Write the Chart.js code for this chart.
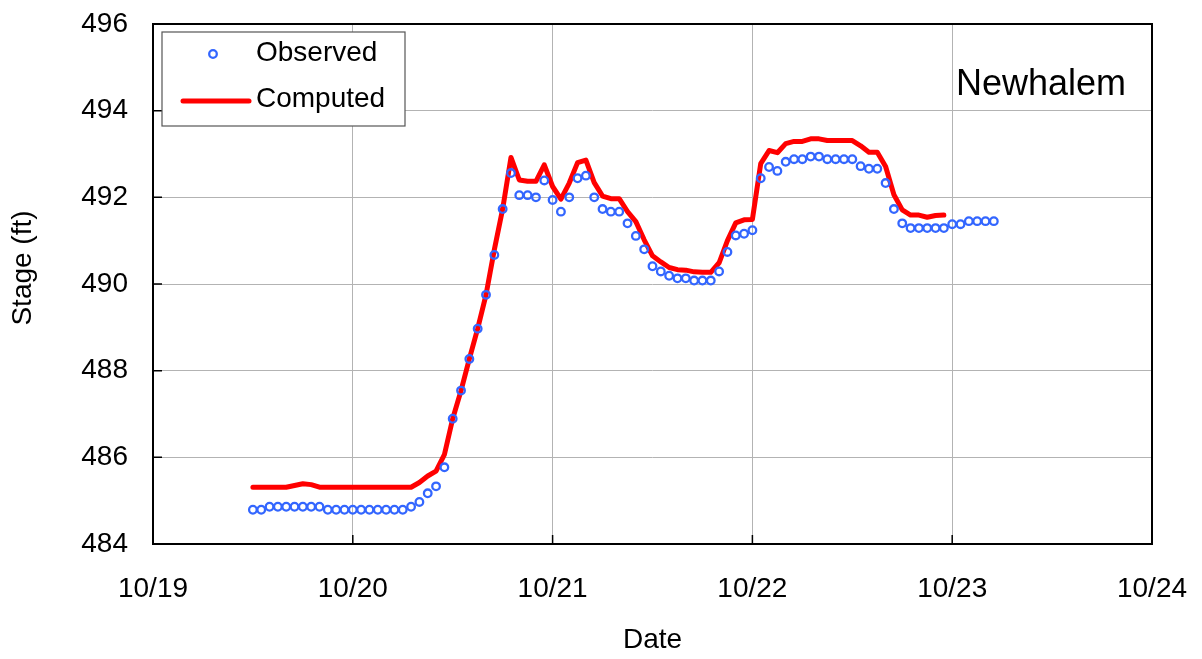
<!DOCTYPE html>
<html>
<head>
  <title>Newhalem Stage</title>
  <script src="https://cdn.jsdelivr.net/npm/chart.js"></script>
  <style>
    body { margin: 0; background: #fff; }
  </style>
</head>
<body>
  <canvas id="chart" width="1202" height="659"></canvas>

  <script>
    // x is hours after 10/19 00:00, one value per hour
    const dayLabels = ["10/19", "10/20", "10/21", "10/22", "10/23", "10/24"];
    const stationName = "Newhalem";
    const yTitle = "Stage (ft)";

    const observedStartHour = 12;
    const observed = [
      484.79, 484.79, 484.86, 484.86, 484.86, 484.86, 484.86, 484.86, 484.86,
      484.79, 484.79, 484.79, 484.79, 484.79, 484.79, 484.79, 484.79, 484.79, 484.79,
      484.86, 484.97, 485.17, 485.33, 485.77, 486.89, 487.54, 488.27, 488.97, 489.75,
      490.67, 491.73, 492.56, 492.05, 492.05, 492.0, 492.39, 491.94, 491.67, 492.0,
      492.44, 492.5, 492.0, 491.73, 491.67, 491.67, 491.4, 491.11, 490.8, 490.41,
      490.29, 490.19, 490.13, 490.13, 490.08, 490.08, 490.08, 490.29, 490.74, 491.12,
      491.16, 491.24, 492.44, 492.7, 492.61, 492.82, 492.88, 492.88, 492.94, 492.94,
      492.88, 492.88, 492.88, 492.88, 492.72, 492.66, 492.66, 492.33, 491.73, 491.4,
      491.29, 491.29, 491.29, 491.29, 491.29, 491.38, 491.38, 491.45, 491.45, 491.45,
      491.45
    ];

    const computedStartHour = 12;
    const computed = [
      485.31, 485.31, 485.31, 485.31, 485.31, 485.35, 485.39, 485.37,
      485.31, 485.31, 485.31, 485.31, 485.31, 485.31, 485.31, 485.31, 485.31, 485.31,
      485.31, 485.31, 485.42, 485.57, 485.68, 486.06, 486.89, 487.54, 488.27, 488.97,
      489.75, 490.79, 491.73, 492.92, 492.40, 492.37, 492.37, 492.75, 492.25, 491.96,
      492.33, 492.80, 492.86, 492.34, 492.03, 491.97, 491.97, 491.67, 491.44, 491.02,
      490.65, 490.51, 490.38, 490.33, 490.32, 490.28, 490.27, 490.27, 490.49, 491.0,
      491.41, 491.48, 491.49, 492.78, 493.08, 493.03, 493.24, 493.29, 493.29, 493.35,
      493.35, 493.31, 493.31, 493.31, 493.31, 493.19, 493.04, 493.04, 492.71, 492.06,
      491.71, 491.59, 491.59, 491.54, 491.58, 491.59
    ];

    const font = "'Liberation Sans', Arial, sans-serif";

    // black frame plus the short ticks that point into the plot
    const framePlugin = {
      id: "frame",
      afterDatasetsDraw(chart) {
        const { ctx, chartArea: a, scales } = chart;
        ctx.save();
        ctx.strokeStyle = "#000";
        ctx.lineWidth = 1.5;
        ctx.beginPath();
        scales.x.ticks.forEach((t) => {
          const px = scales.x.getPixelForValue(t.value);
          ctx.moveTo(px, a.bottom);
          ctx.lineTo(px, a.bottom - 9);
        });
        scales.y.ticks.forEach((t) => {
          const py = scales.y.getPixelForValue(t.value);
          ctx.moveTo(a.left, py);
          ctx.lineTo(a.left + 9, py);
        });
        ctx.stroke();
        ctx.lineWidth = 2;
        ctx.strokeRect(a.left, a.top, a.right - a.left, a.bottom - a.top);
        ctx.restore();
      },
    };

    // boxed legend in the top left corner, station name, y title
    const legendBox = {
      id: "legendBox",
      afterDraw(chart) {
        const ctx = chart.ctx;
        const a = chart.chartArea;
        const obs = chart.data.datasets[0];
        const comp = chart.data.datasets[1];
        const bx = a.left + 9, by = a.top + 8;
        ctx.save();
        ctx.fillStyle = "#fff";
        ctx.fillRect(bx, by, 243, 94);
        ctx.strokeStyle = "#555";
        ctx.lineWidth = 1.2;
        ctx.strokeRect(bx, by, 243, 94);

        ctx.beginPath();
        ctx.arc(bx + 51, by + 22, obs.pointRadius, 0, Math.PI * 2);
        ctx.strokeStyle = obs.pointBorderColor;
        ctx.lineWidth = obs.pointBorderWidth;
        ctx.stroke();

        ctx.beginPath();
        ctx.moveTo(bx + 21, by + 69);
        ctx.lineTo(bx + 87, by + 69);
        ctx.strokeStyle = comp.borderColor;
        ctx.lineWidth = comp.borderWidth;
        ctx.lineCap = "round";
        ctx.stroke();

        ctx.fillStyle = "#000";
        ctx.font = "28px " + font;
        ctx.textBaseline = "middle";
        ctx.fillText(obs.label, bx + 94, by + 21);
        ctx.fillText(comp.label, bx + 94, by + 67);

        // axis title sits a bit above the plot centre in the original
        ctx.save();
        ctx.translate(23, 268);
        ctx.rotate(-Math.PI / 2);
        ctx.textAlign = "center";
        ctx.fillText(yTitle, 0, 0);
        ctx.restore();

        ctx.font = "36px " + font;
        ctx.textBaseline = "alphabetic";
        ctx.fillText(stationName, 956, 95);
        ctx.restore();
      },
    };

    const chart = new Chart("chart", {
      type: "scatter",
      data: {
        datasets: [
          {
            label: "Observed",
            data: observed.map((v, i) => ({ x: observedStartHour + i, y: v })),
            showLine: false,
            pointStyle: "circle",
            pointRadius: 3.8,
            pointBorderWidth: 2.3,
            pointBorderColor: "#3366ff",
            pointBackgroundColor: "rgba(0,0,0,0)",
            borderColor: "#3366ff",
          },
          {
            label: "Computed",
            data: computed.map((v, i) => ({ x: computedStartHour + i, y: v })),
            showLine: true,
            pointRadius: 0,
            borderColor: "#ff0000",
            borderWidth: 5,
            borderJoinStyle: "round",
            borderCapStyle: "round",
            tension: 0,
          },
        ],
      },
      options: {
        responsive: false,
        animation: false,
        layout: { padding: { top: 24, right: 50, left: 0, bottom: 0 } },
        plugins: {
          legend: { display: false },
          tooltip: { enabled: false },
        },
        scales: {
          x: {
            type: "linear",
            min: 0,
            max: 120,
            afterFit: (s) => {
              s.height = 115;
              s.paddingLeft = 0;
              s.paddingRight = 0;
            },
            ticks: {
              stepSize: 24,
              padding: 28,
              color: "#000",
              font: { family: font, size: 28 },
              callback: (v) => dayLabels[v / 24],
            },
            grid: { color: "#b3b3b3", drawTicks: false },
            border: { display: false },
            title: {
              display: true,
              text: "Date",
              color: "#000",
              font: { family: font, size: 28 },
              padding: { top: 0, bottom: 2 },
            },
          },
          y: {
            min: 484,
            max: 496,
            afterFit: (s) => {
              s.width = 153;
              s.paddingTop = 0;
              s.paddingBottom = 0;
            },
            ticks: {
              stepSize: 2,
              padding: 25,
              color: "#000",
              font: { family: font, size: 28 },
            },
            grid: { color: "#b3b3b3", drawTicks: false },
            border: { display: false },
            title: { display: false },
          },
        },
      },
      plugins: [framePlugin, legendBox],
    });
  </script>
</body>
</html>
